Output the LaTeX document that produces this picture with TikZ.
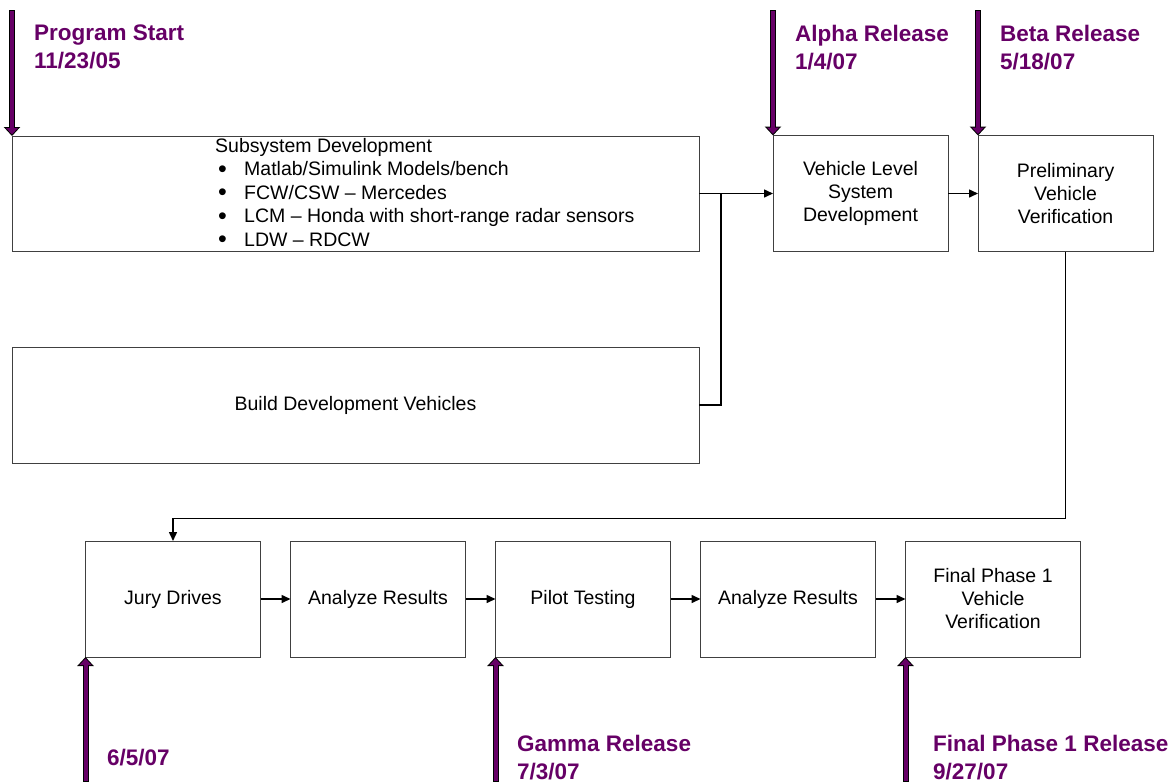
\documentclass[tikz,border=0pt]{standalone}
\usepackage{fontspec}
\setmainfont{Liberation Sans}
\usetikzlibrary{arrows.meta,positioning}
\definecolor{mspurple}{RGB}{102,0,102}

\tikzset{
  task/.style={draw=black!75, line width=0.9pt, outer sep=0pt, minimum width=175pt, minimum height=116pt,
    align=center, inner sep=2pt, font=\fontsize{19.5}{23}\selectfont},
  flow/.style={draw=black, line width=1.5pt, -{Triangle[width=8pt,length=9pt]}},
  link/.style={draw=black, line width=1.5pt},
  mslabel/.style={text=mspurple, align=left, anchor=north west, inner sep=0pt,
    font=\bfseries\fontsize{22.5}{28}\selectfont},
}
% thick purple milestone arrow with a black rim
\newcommand\milestone[2]{%
  \draw[line width=6pt, -{Triangle[width=16pt,length=9pt]}] (#1) -- (#2);
  \draw[mspurple, line width=4pt, -{Triangle[width=11.6pt,length=6.5pt]},
    shorten >=1.5pt, shorten <=1pt] (#1) -- (#2);}
\newcommand\bul{\makebox[29pt][l]{\hspace{3pt}\raisebox{-1.5pt}{\fontsize{25}{25}\selectfont•}}}

\begin{document}
\begin{tikzpicture}[x=1pt, y=-1pt]
  \useasboundingbox (0,0) rectangle (1176,782);

  % top row
  \node[task, minimum width=687pt, minimum height=115pt] (sub) at (355.5,193.5) {};
  \node[anchor=west, align=left, inner sep=0pt, font=\fontsize{19.5}{23.5}\selectfont] (sublist) at (215,193)
    {Subsystem Development\\
     \bul Matlab/Simulink Models/bench\\
     \bul FCW/CSW – Mercedes\\
     \bul LCM – Honda with short-range radar sensors\\
     \bul LDW – RDCW};
  \node[task] (vlsd) at (860.5,193.5) {Vehicle Level\\System\\Development};
  \node[task, right=30pt of vlsd] (prelim) {Preliminary\\Vehicle\\Verification};
  \node[task, minimum width=687pt] (build) at (355.5,405) {Build Development Vehicles};

  % bottom row
  \node[task] (jury) at (173,599) {Jury Drives};
  \node[task, right=30pt of jury] (res1) {Analyze Results};
  \node[task, right=30pt of res1] (pilot) {Pilot Testing};
  \node[task, right=30pt of pilot] (res2) {Analyze Results};
  \node[task, right=30pt of res2] (final) {Final Phase 1\\Vehicle\\Verification};

  % connectors
  \coordinate (join) at (721,193.5);
  \draw[flow] (sub) -- (vlsd);
  \draw[link] (build.east) -| (join);
  \draw[flow] (vlsd) -- (prelim);
  \draw[flow] (prelim.south) -- ++(0,267) -| (jury.north);
  \foreach \a/\b in {jury/res1,res1/pilot,pilot/res2,res2/final}
    \draw[flow] (\a) -- (\b);

  % milestones
  \coordinate (top) at (0,10);
  \coordinate (bot) at (0,782);
  \milestone{sub.north west |- top}{sub.north west}
  \milestone{vlsd.north west |- top}{vlsd.north west}
  \milestone{prelim.north west |- top}{prelim.north west}
  \milestone{jury.south west |- bot}{jury.south west}
  \milestone{pilot.south west |- bot}{pilot.south west}
  \milestone{final.south west |- bot}{final.south west}

  \node[mslabel] (lstart) at (34,25) {Program Start\\11/23/05};
  \node[mslabel] (lalpha) at (795,25) {Alpha Release\\1/4/07};
  \node[mslabel] (lbeta) at (1000,25) {Beta Release\\5/18/07};
  \node[mslabel] (ljury) at (107,749) {6/5/07};
  \node[mslabel] (lgamma) at (517,735) {Gamma Release\\7/3/07};
  \node[mslabel] (lfinal) at (933,735) {Final Phase 1 Release\\9/27/07};
\end{tikzpicture}
\end{document}
